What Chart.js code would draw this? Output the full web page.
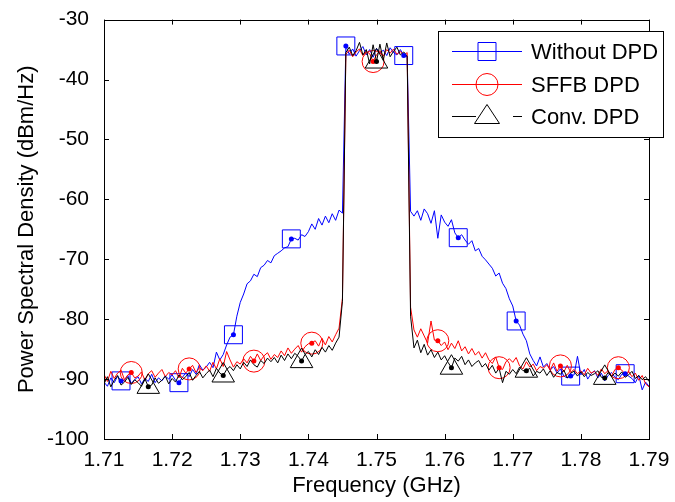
<!DOCTYPE html>
<html lang="en">
<head>
<meta charset="UTF-8">
<title>Power Spectral Density</title>
<script src="https://cdn.jsdelivr.net/npm/chart.js@4.4.0/dist/chart.umd.min.js"></script>
<style>
    body { margin: 0; background: #fff; }
    #wrap { width: 675px; height: 502px; }
</style>
</head>
<body>
<div id="wrap"><canvas id="psd" width="675" height="502"></canvas></div>
<script>
// frequency grid (GHz): 1.710 ... 1.790, step 0.0005
const fStart = 1.71, fStep = 0.0005, nPts = 161;
const xTicks = [1.71, 1.72, 1.73, 1.74, 1.75, 1.76, 1.77, 1.78, 1.79];
const yTicks = [-100, -90, -80, -70, -60, -50, -40, -30];

// Without DPD (dBm/Hz)
const withoutDpd = [
    -90.5, -91.2, -89.8, -90.6, -89.5, -90.3, -90.2, -89.4, -90.7, -90.1,
    -89.6, -90.8, -89.9, -90.4, -89.2, -90.6, -89.8, -90.3, -89.5, -90.0,
    -89.3, -90.2, -90.6, -89.7, -89.0, -89.6, -88.4, -89.2, -87.6, -88.5,
    -88.0, -87.2, -88.1, -85.5, -86.8, -85.9, -84.3, -83.0, -82.6, -79.5,
    -77.2, -75.8, -74.1, -73.6, -72.5, -72.9, -71.4, -71.0, -70.2, -70.6,
    -69.4, -69.0, -68.6, -68.1, -67.9, -66.6, -66.5, -66.8, -65.9, -66.2,
    -65.4, -64.1, -65.0, -63.2, -64.3, -62.8, -63.9, -62.4, -63.5, -61.8,
    -62.3,
    -34.4, -35.8, -34.9, -36.1, -35.2, -34.5, -35.9, -35.0, -36.3, -34.8,
    -35.6, -35.1, -36.0, -34.7, -35.5, -35.9, -35.0, -36.0, -36.2,
    -62.0, -62.8, -61.9, -63.5, -61.6, -62.4, -64.0, -61.9, -66.5, -62.6,
    -63.8, -64.5, -63.4, -65.6, -66.4, -65.9, -66.8, -67.5, -66.9, -68.6,
    -68.2, -69.5, -70.1, -70.8, -71.5, -72.8, -72.3, -74.0, -74.9, -76.6,
    -77.8, -80.3, -81.0, -82.5, -83.6, -85.8, -86.9, -87.8, -86.3, -88.0,
    -87.4, -88.5, -87.9, -89.0, -88.3, -89.5, -89.8, -89.5, -89.3, -86.2,
    -89.3, -88.4, -90.0, -89.1, -88.6, -89.8, -89.0, -90.3, -89.4, -88.9,
    -89.7, -90.1, -89.2, -89.1, -89.5, -89.9, -90.6, -89.4, -91.8, -90.5, -91.2
];

// SFFB DPD
const sffbDpd = [
    -89.2, -90.4, -88.7, -89.9, -89.0, -88.5, -90.1, -89.3, -88.9, -89.8,
    -89.5, -88.8, -90.2, -89.1, -88.6, -89.7, -89.0, -88.4, -89.6, -88.9,
    -89.3, -88.6, -89.8, -88.2, -89.0, -88.3, -87.7, -88.9, -88.1, -88.6,
    -87.8, -88.7, -87.2, -88.3, -86.6, -87.9, -85.4, -86.8, -88.0, -87.1,
    -87.5, -86.6, -87.3, -86.2, -87.0, -85.8, -86.9, -86.1, -85.6, -86.7,
    -85.9, -86.4, -85.3, -86.1, -84.8, -85.7, -85.0, -84.4, -85.5, -84.6,
    -84.1, -84.0, -83.6, -84.5, -83.2, -84.3, -82.9, -83.8, -82.6, -81.5,
    -76.5,
    -35.8, -35.1, -36.2, -35.4, -34.9, -36.0, -35.3, -35.7, -37.0, -35.9,
    -35.2, -36.1, -35.0, -35.6, -34.9, -35.8, -35.3, -36.0, -35.5,
    -78.0, -81.8, -83.0, -81.6, -82.8, -84.0, -80.3, -83.5, -83.6, -84.4,
    -83.8, -85.1, -84.0, -84.9, -83.6, -85.3, -84.6, -85.8, -84.9, -86.0,
    -85.4, -86.5, -85.6, -86.8, -87.4, -86.3, -88.1, -88.4, -87.1, -86.6,
    -87.2, -86.4, -87.8, -88.3, -87.1, -88.0, -87.5, -88.6, -87.9, -88.2,
    -87.6, -88.5, -87.3, -88.7, -87.8, -88.8, -87.7, -88.9, -88.4, -89.1,
    -88.6, -89.3, -88.2, -89.0, -88.7, -89.4, -88.3, -89.1, -88.6, -89.5,
    -88.4, -88.1, -88.5, -89.2, -88.7, -89.6, -89.0, -90.2, -89.4, -90.8, -91.3
];

// Conv. DPD
const convDpd = [
    -90.8, -89.6, -91.3, -90.2, -89.4, -91.0, -90.5, -89.7, -90.9, -90.1,
    -90.6, -91.2, -89.9, -91.3, -91.0, -89.8, -90.7, -90.2, -89.5, -90.8,
    -89.9, -90.5, -89.3, -90.1, -89.6, -88.9, -90.2, -89.4, -88.7, -89.8,
    -89.1, -88.5, -89.6, -88.2, -89.0, -89.4, -88.4, -87.9, -88.6, -87.6,
    -88.3, -87.2, -87.9, -86.8, -87.6, -88.0, -86.9, -87.4, -86.5, -87.1,
    -86.4, -87.3, -86.0, -86.9, -85.8, -86.6, -85.7, -86.2, -87.0, -85.9,
    -85.4, -86.3, -85.1, -85.9, -84.7, -85.5, -84.4, -85.2, -84.0, -83.0,
    -77.0,
    -35.5, -34.6, -36.0, -35.2, -33.8, -35.9, -35.0, -37.4, -34.2, -37.0,
    -34.1, -36.8, -33.9, -36.2, -35.3, -34.6, -35.9, -35.4, -36.1,
    -79.5, -84.8, -83.5, -85.6, -84.2, -86.0, -85.1, -86.4, -85.5, -86.8,
    -86.1, -87.2, -88.1, -86.5, -87.0, -86.2, -87.6, -86.8, -87.9, -87.3,
    -86.9, -88.0, -87.4, -88.5, -87.7, -89.0, -88.2, -90.6, -88.7, -89.2,
    -88.4, -89.1, -88.0, -88.6, -88.6, -88.2, -89.5, -88.7, -89.0, -88.3,
    -89.4, -88.6, -89.7, -88.9, -89.2, -88.5, -89.8, -89.0, -88.7, -89.5,
    -88.8, -89.6, -88.9, -89.4, -89.1, -88.6, -89.7, -89.8, -88.9, -89.6,
    -89.0, -89.5, -88.8, -89.7, -89.3, -88.7, -89.9, -89.4, -90.1, -89.6, -90.4
];

// sample indices that carry a marker
const blueMarks = [5, 22, 38, 55, 71, 88, 104, 121, 137, 153];
const redMarks = [8, 25, 44, 61, 79, 98, 116, 134, 151];
const blackMarks = [13, 35, 58, 80, 102, 124, 147];

const seriesNames = ['Without DPD', 'SFFB DPD', 'Conv. DPD'];

const FONT = '"Liberation Sans", Arial, Helvetica, sans-serif';
Chart.defaults.color = '#000';
Chart.defaults.font.family = FONT;

const freq = [];
for (let i = 0; i < nPts; i++) freq.push(+(fStart + i * fStep).toFixed(4));
const toXY = arr => arr.map((v, i) => ({ x: freq[i], y: v }));

function makeSet(label, values, color, style, radius, marks, order) {
    return {
        label: label,
        data: toXY(values),
        borderColor: color,
        backgroundColor: 'transparent',
        borderWidth: 1,
        tension: 0,
        order: order,
        pointStyle: style,
        pointBorderColor: color,
        pointBackgroundColor: 'transparent',
        pointBorderWidth: 1,
        pointRadius: ctx => marks.includes(ctx.dataIndex) ? radius : 0,
        pointHoverRadius: 0,
        marks: marks
    };
}

// axes box with inward ticks, MATLAB style
const framePlugin = {
    id: 'frame',
    afterDatasetsDraw(chart) {
        const { ctx, chartArea: a, scales } = chart;
        ctx.save();
        // centre dots on markers
        chart.data.datasets.forEach((ds, di) => {
            const meta = chart.getDatasetMeta(di);
            ctx.fillStyle = ds.borderColor;
            ds.marks.forEach(i => {
                const p = meta.data[i];
                ctx.beginPath();
                ctx.arc(p.x, p.y, 2.5, 0, Math.PI * 2);
                ctx.fill();
            });
        });
        ctx.strokeStyle = '#000';
        ctx.lineWidth = 1;
        ctx.strokeRect(Math.round(a.left) + 0.5, Math.round(a.top) + 0.5,
            Math.round(a.right - a.left), Math.round(a.bottom - a.top));
        const tl = 5;
        ctx.beginPath();
        xTicks.forEach(v => {
            const x = Math.round(scales.x.getPixelForValue(v)) + 0.5;
            ctx.moveTo(x, a.bottom); ctx.lineTo(x, a.bottom - tl);
            ctx.moveTo(x, a.top); ctx.lineTo(x, a.top + tl);
        });
        yTicks.forEach(v => {
            const y = Math.round(scales.y.getPixelForValue(v)) + 0.5;
            ctx.moveTo(a.left, y); ctx.lineTo(a.left + tl, y);
            ctx.moveTo(a.right, y); ctx.lineTo(a.right - tl, y);
        });
        ctx.stroke();
        ctx.restore();
    }
};

// boxed legend in the upper right corner
const legendPlugin = {
    id: 'boxLegend',
    afterDraw(chart) {
        const ctx = chart.ctx;
        const bx = 438.5, by = 31.5, bw = 225, bh = 106;
        const rows = [51, 84, 116];
        ctx.save();
        ctx.fillStyle = '#fff';
        ctx.fillRect(bx, by, bw, bh);
        ctx.strokeStyle = '#000';
        ctx.lineWidth = 1;
        ctx.strokeRect(bx, by, bw, bh);
        chart.data.datasets.forEach((ds, i) => {
            const y = rows[i] + 0.5;
            const cx = 487;
            ctx.strokeStyle = ds.borderColor;
            ctx.beginPath();
            if (i === 2) {
                ctx.moveTo(452, y); ctx.lineTo(476, y);
                ctx.moveTo(513, y); ctx.lineTo(522, y);
            } else {
                ctx.moveTo(452, y); ctx.lineTo(522, y);
            }
            ctx.stroke();
            ctx.beginPath();
            if (ds.pointStyle === 'rect') {
                ctx.rect(cx - 9, y - 9, 18, 18);
            } else if (ds.pointStyle === 'circle') {
                ctx.arc(cx, y, 11, 0, Math.PI * 2);
            } else {
                ctx.moveTo(cx, y - 12); ctx.lineTo(cx + 12.5, y + 7);
                ctx.lineTo(cx - 12.5, y + 7); ctx.closePath();
            }
            ctx.stroke();
            ctx.fillStyle = '#000';
            ctx.font = '22px ' + FONT;
            ctx.textBaseline = 'middle';
            ctx.fillText(seriesNames[i], 531, y + 1);
        });
        ctx.restore();
    }
};

new Chart(document.getElementById('psd'), {
    type: 'line',
    data: {
        datasets: [
            makeSet(seriesNames[0], withoutDpd, '#0000ff', 'rect', 12.7, blueMarks, 3),
            makeSet(seriesNames[1], sffbDpd, '#ff0000', 'circle', 11, redMarks, 2),
            makeSet(seriesNames[2], convDpd, '#000000', 'triangle', 13, blackMarks, 1)
        ]
    },
    options: {
        responsive: false,
        animation: false,
        events: [],
        layout: { padding: { left: 0, right: 26, top: 16, bottom: 0 } },
        plugins: { legend: { display: false }, tooltip: { enabled: false } },
        scales: {
            x: {
                type: 'linear',
                min: 1.71,
                max: 1.79,
                grid: { display: false },
                border: { display: false },
                afterBuildTicks: s => { s.ticks = xTicks.map(v => ({ value: v })); },
                afterFit: s => { s.height = 63; },
                ticks: {
                    autoSkip: false,
                    maxRotation: 0,
                    padding: 1,
                    font: { size: 21 },
                    callback: v => v.toFixed(2)
                },
                title: {
                    display: true,
                    text: 'Frequency (GHz)',
                    font: { size: 22 },
                    padding: { top: 0, bottom: 3 }
                }
            },
            y: {
                min: -100,
                max: -30,
                grid: { display: false },
                border: { display: false },
                afterBuildTicks: s => { s.ticks = yTicks.map(v => ({ value: v })); },
                afterFit: s => { s.width = 104; },
                ticks: {
                    autoSkip: false,
                    padding: 7,
                    font: { size: 21 },
                    callback: v => String(v)
                },
                title: {
                    display: true,
                    text: 'Power Spectral Density (dBm/Hz)',
                    font: { size: 22 },
                    padding: { top: 14, bottom: 0 }
                }
            }
        }
    },
    plugins: [framePlugin, legendPlugin]
});
</script>
</body>
</html>
